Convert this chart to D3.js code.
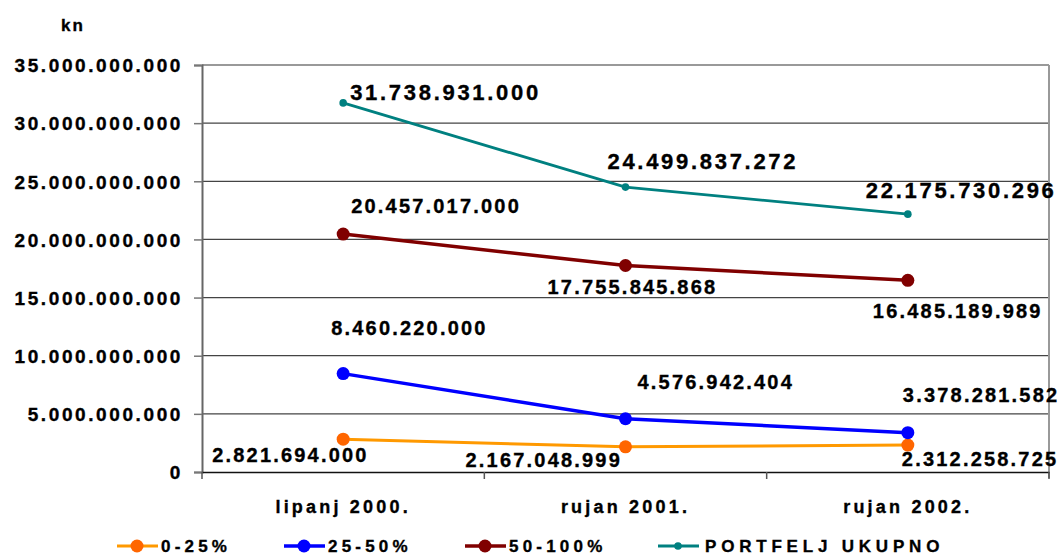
<!DOCTYPE html>
<html>
<head>
<meta charset="utf-8">
<script src="https://cdn.jsdelivr.net/npm/d3@7"></script>
<style>
  html, body { margin: 0; padding: 0; background: #fff; }
  text { font-family: "Liberation Sans", Arial, sans-serif; font-weight: bold; fill: #000; stroke: #000; stroke-width: 0.35px; }
</style>
</head>
<body>
<svg id="chart" width="1060" height="555"></svg>
<script>
// ---- data ----
const categories = ["lipanj 2000.", "rujan 2001.", "rujan 2002."];
const seriesNames = ["0-25%", "25-50%", "50-100%", "PORTFELJ UKUPNO"];
const values0_25 = [2821694000, 2167048999, 2312258725];
const values25_50 = [8460220000, 4576942404, 3378281582];
const values50_100 = [20457017000, 17755845868, 16485189989];
const valuesTotal = [31738931000, 24499837272, 22175730296];
const yTicks = [0, 5000000000, 10000000000, 15000000000, 20000000000, 25000000000, 30000000000, 35000000000];
const unitLabel = "kn";

// ---- styles / layout (not data) ----
const colors = ["#FF9900", "#0000FF", "#800000", "#008080"];
const markerColors = ["#FF6600", "#0000FF", "#800000", "#008080"];
const lineWidths = [3, 3.5, 3.5, 2.8];
const markerR = [6.5, 6.5, 6.5, 3.8];
const labelSize = [20, 20, 20, 22];
const labelSpacing = [2.2, 2.2, 2.2, 2.7];
// label offsets relative to point: [dx (left edge), dy (baseline)]
const labelOffsets = [
  [[-131, 23], [-160, 20], [-6, 21]],
  [[-12, -39], [12, -30], [-5, -31]],
  [[8, -21], [-78, 28], [-35, 38]],
  [[7, -3], [-18, -18], [-42, -16]]
];
const legendX = [117, 284, 465, 658];

const seriesValues = [values0_25, values25_50, values50_100, valuesTotal];

const svg = d3.select("#chart");
const margin = { left: 202, right: 1049, top: 65, bottom: 472 };

const x = d3.scaleBand().domain(categories).range([margin.left, margin.right]).padding(0);
const y = d3.scaleLinear().domain([0, 35000000000]).range([margin.bottom, margin.top]);

const fmt = v => d3.format(",")(v).replace(/,/g, ".");

// gridlines
svg.append("g").selectAll("line").data(yTicks.filter(d => d > 0)).join("line")
  .attr("x1", margin.left).attr("x2", margin.right)
  .attr("y1", d => y(d)).attr("y2", d => y(d))
  .attr("stroke", "#444").attr("stroke-width", 1.2);

// plot border top/right
svg.append("line").attr("x1", margin.left).attr("x2", margin.right)
  .attr("y1", margin.top).attr("y2", margin.top).attr("stroke", "#999").attr("stroke-width", 2);
svg.append("line").attr("x1", margin.right).attr("x2", margin.right)
  .attr("y1", margin.top).attr("y2", margin.bottom + 6).attr("stroke", "#999").attr("stroke-width", 2);

// y axis
const yAxis = d3.axisLeft(y).tickValues(yTicks).tickSize(8).tickFormat(d => fmt(d));
const gy = svg.append("g").attr("transform", `translate(${margin.left},0)`).call(yAxis);
gy.select(".domain").attr("stroke", "#666").attr("stroke-width", 2);
gy.selectAll(".tick line").attr("stroke", "#777").attr("stroke-width", 1.5);
gy.selectAll(".tick text").attr("x", -19).attr("dy", "0.36em")
  .style("font-size", "19px").style("letter-spacing", "2.6px").style("font-weight", "bold")
  .attr("fill", "#000").attr("font-family", null);

// x axis
const xAxis = d3.axisBottom(x).tickSize(0).tickFormat(d => d);
const gx = svg.append("g").attr("transform", `translate(0,${margin.bottom})`).call(xAxis);
gx.select(".domain").attr("stroke", "#111").attr("stroke-width", 1.5);
gx.selectAll(".tick text").attr("y", 28)
  .style("font-size", "18px").style("letter-spacing", "3.2px").style("font-weight", "bold")
  .attr("fill", "#000").attr("font-family", null);
// category boundary ticks
const bounds = categories.map(c => x(c)).concat([x(categories[categories.length - 1]) + x.bandwidth()]);
svg.append("g").selectAll("line").data(bounds).join("line")
  .attr("x1", d => d).attr("x2", d => d)
  .attr("y1", margin.bottom).attr("y2", margin.bottom + 7)
  .attr("stroke", "#555").attr("stroke-width", 1.5);

// unit label
svg.append("text").attr("x", 61).attr("y", 31).text(unitLabel)
  .style("font-size", "17px").style("letter-spacing", "2px");

// series
const cx = c => x(c) + x.bandwidth() / 2;
seriesValues.forEach((vals, si) => {
  const line = d3.line().x((d, i) => cx(categories[i])).y(d => y(d));
  svg.append("path").datum(vals).attr("d", line)
    .attr("fill", "none").attr("stroke", colors[si]).attr("stroke-width", lineWidths[si])
    .attr("stroke-linejoin", "round");
  svg.append("g").selectAll("circle").data(vals).join("circle")
    .attr("cx", (d, i) => cx(categories[i])).attr("cy", d => y(d))
    .attr("r", markerR[si]).attr("fill", markerColors[si]);
});

// data labels
seriesValues.forEach((vals, si) => {
  svg.append("g").selectAll("text").data(vals).join("text")
    .attr("x", (d, i) => cx(categories[i]) + labelOffsets[si][i][0])
    .attr("y", (d, i) => y(d) + labelOffsets[si][i][1])
    .style("font-size", labelSize[si] + "px")
    .style("letter-spacing", labelSpacing[si] + "px")
    .text(d => fmt(d));
});

// legend
const legY = 546;
const lg = svg.append("g");
seriesNames.forEach((name, si) => {
  const lx = legendX[si];
  lg.append("line").attr("x1", lx).attr("x2", lx + 41).attr("y1", legY).attr("y2", legY)
    .attr("stroke", colors[si]).attr("stroke-width", lineWidths[si]);
  lg.append("circle").attr("cx", lx + 20).attr("cy", legY).attr("r", markerR[si])
    .attr("fill", markerColors[si]);
  lg.append("text").attr("x", lx + (si === 3 ? 47 : 44)).attr("y", legY + 6)
    .style("font-size", "17px").style("letter-spacing", (si === 3 ? 4.8 : 4.2) + "px").text(name);
});
</script>
</body>
</html>
